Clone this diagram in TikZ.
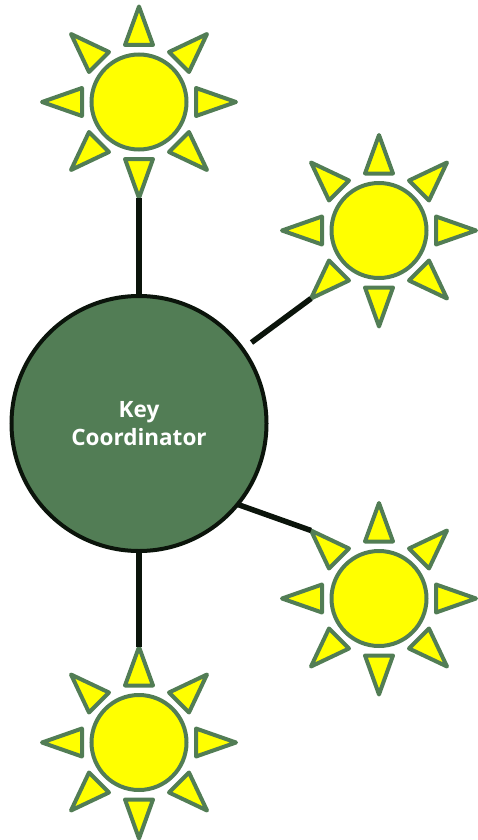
\documentclass[tikz,border=0pt]{standalone}
\usepackage{fontspec}
\setmainfont{Open Sans}
\definecolor{leaf}{RGB}{82,125,85}
\definecolor{ink}{RGB}{11,20,11}
\definecolor{sunfill}{RGB}{255,255,0}
\tikzset{
  x=1pt,y=-1pt,
  keynode/.style={circle,draw=ink,fill=leaf,line width=4pt,minimum size=255pt,inner sep=0pt,text=white,align=center,font=\fontsize{22.5}{27.5}\selectfont\bfseries},
  disc/.style={circle,draw=leaf,fill=sunfill,line width=4pt,minimum size=95pt,inner sep=0pt},
  ray/.style={draw=leaf,fill=sunfill,line width=4pt,line join=round},
  link/.style={draw=ink,line width=5.5pt}
}
\newcommand{\drawsun}[3]{%
  \node[disc] (#1) at (#2,#3) {};
  \begin{scope}[shift={(#2,#3)}]
    \coordinate (#1-n) at (0,-95.5);
    \coordinate (#1-s) at (0,96);
    \coordinate (#1-ne) at (68,-68);
    \coordinate (#1-se) at (68,68);
    \coordinate (#1-nw) at (-68,-68);
    \coordinate (#1-sw) at (-68,68);
    \coordinate (#1-e) at (97,0);
    \coordinate (#1-w) at (-97,0);
    \path[ray] (#1-n) -- (-14,-57) -- (14,-57) -- cycle;
    \path[ray] (#1-s) -- (-14,57) -- (14,57) -- cycle;
    \path[ray] (#1-e) -- (57,-14) -- (57,14) -- cycle;
    \path[ray] (#1-w) -- (-57,-14) -- (-57,14) -- cycle;
    \path[ray] (#1-ne) -- (30,-50) -- (50,-30) -- cycle;
    \path[ray] (#1-nw) -- (-30,-50) -- (-50,-30) -- cycle;
    \path[ray] (#1-se) -- (30,50) -- (50,30) -- cycle;
    \path[ray] (#1-sw) -- (-30,50) -- (-50,30) -- cycle;
  \end{scope}}
\begin{document}
\begin{tikzpicture}
  \useasboundingbox (0,0) rectangle (477,840);
  \node[keynode] (key) at (139,423.5) {Key\\Coordinator};
  \coordinate (gapA) at (251.5,342.5);
  \coordinate (gapB) at (236.5,504);
  \drawsun{sunA}{139}{102}
  \drawsun{sunB}{379}{230.5}
  \drawsun{sunC}{379}{598.5}
  \drawsun{sunD}{139}{742.5}
  \draw[link] (key.north) -- (sunA-s);
  \draw[link] (gapA) -- (sunB-sw);
  \draw[link] (gapB) -- (sunC-nw);
  \draw[link] (key.south) -- (sunD-n);
\end{tikzpicture}
\end{document}
